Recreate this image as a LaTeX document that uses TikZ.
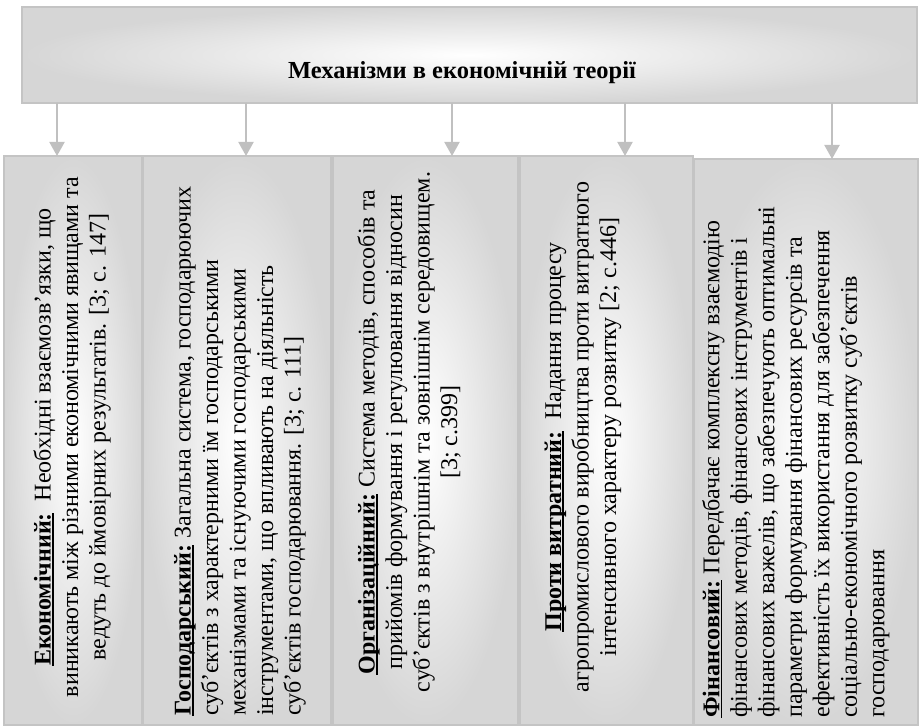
\documentclass[tikz,border=0pt]{standalone}
\usepackage{fontspec}
\setmainfont{Liberation Serif}
\usetikzlibrary{arrows.meta}
\definecolor{boxgray}{HTML}{D6D6D6}
\definecolor{boxline}{HTML}{C4C4C4}
\definecolor{arrgray}{HTML}{C0C0C0}
\newcommand\myul[1]{\setbox0\hbox{#1}\rlap{\rule[-3pt]{\wd0}{1.8pt}}\box0\relax}
\newcommand\fs{\fontsize{24}{27.5}\selectfont}
\tikzset{
  box/.style={draw=boxline, line width=1.6pt, shading=radial, inner color=white, outer color=boxgray, inner sep=0pt, outer sep=0pt, anchor=north west},
  arr/.style={draw=arrgray, line width=2pt, -{Triangle[length=14pt,width=15pt]}},
  txt/.style={rotate=90, inner sep=0pt, font=\fs}
}
\begin{document}
\begin{tikzpicture}[x=1pt,y=-1pt]
\useasboundingbox (0,0) rectangle (920,727);
% header
\node[box, minimum width=895pt, minimum height=96pt] (head) at (22,7) {};
\node[font=\fontsize{24.5}{28}\selectfont\bfseries, inner sep=0pt] (htext) at (462,73) {Механізми в економічній теорії};
% columns
\node[box, minimum width=138pt, minimum height=569pt] (c1) at (4,156) {};
\node[box, minimum width=188pt, minimum height=569pt] (c2) at (143,156) {};
\node[box, minimum width=185pt, minimum height=569pt] (c3) at (333,156) {};
\node[box, minimum width=173pt, minimum height=569pt] (c4) at (520,156) {};
\node[box, minimum width=224pt, minimum height=566pt] (c5) at (694,159) {};
% arrow positions
\coordinate (a1) at (57,0);
\coordinate (a2) at (246,0);
\coordinate (a3) at (452,0);
\coordinate (a4) at (625,0);
\coordinate (a5) at (832,0);
\draw[arr] (head.south -| a1) -- (c1.north -| a1);
\draw[arr] (head.south -| a2) -- (c2.north -| a2);
\draw[arr] (head.south -| a3) -- (c3.north -| a3);
\draw[arr] (head.south -| a4) -- (c4.north -| a4);
\draw[arr] (head.south -| a5) -- (c5.north -| a5);
% texts
\node[txt, align=center] (t1) at (72,437) {\myul{\textbf{Економічний:}}\ \ Необхідні взаємозв’язки, що\\виникають між різними економічними явищами та\\ведуть до ймовірних результатів. [3; с. 147]};
\node[txt, align=left, anchor=north west] (t2) at (174,716) {\myul{\textbf{Господарський:}} Загальна система, господарюючих\\суб’єктів з характерними їм господарськими\\механізмами та існуючими господарськими\\інструментами, що впливають на діяльність\\суб’єктів господарювання. [3; с. 111]};
\node[txt, align=center] (t3) at (409,432) {\myul{\textbf{Організаційний:}} Система методів, способів та\\прийомів формування і регулювання відносин\\суб’єктів з внутрішнім та зовнішнім середовищем.\\{}[3; с.399]};
\node[txt, align=center] (t4) at (583,437) {\myul{\textbf{Проти витратний:}}\ \ Надання процесу\\агропромислового виробництва проти витратного\\інтенсивного характеру розвитку [2; с.446]};
\node[txt, align=left, anchor=north west] (t5) at (702,718) {\myul{\textbf{Фінансовий:}} Передбачає комплексну взаємодію\\фінансових методів, фінансових інструментів і\\фінансових важелів, що забезпечують оптимальні\\параметри формування фінансових ресурсів та\\ефективність їх використання для забезпечення\\соціально-економічного розвитку суб’єктів\\господарювання};
\end{tikzpicture}
\end{document}
